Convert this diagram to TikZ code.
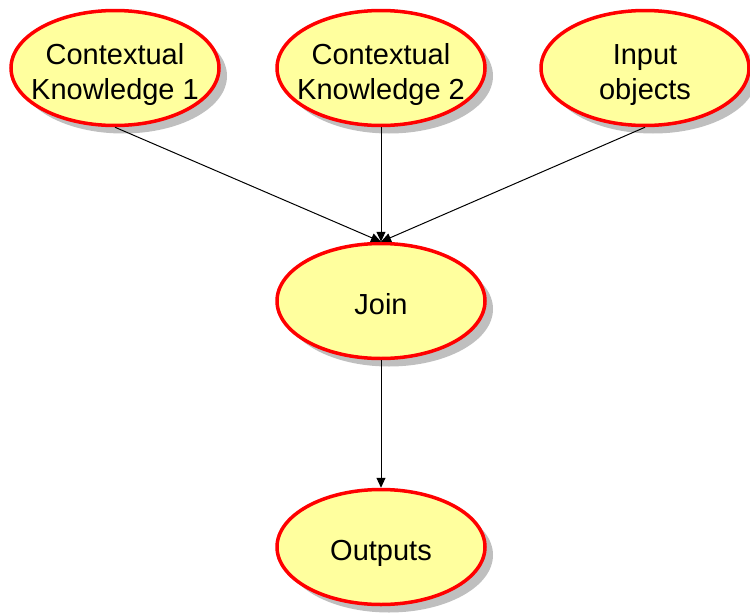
\documentclass[tikz,border=0pt]{standalone}
\usepackage{fontspec}
\setmainfont{Liberation Sans}
\usetikzlibrary{shapes.geometric,arrows.meta,shadows}
\definecolor{nodefill}{HTML}{FFFF9E}
\definecolor{noderim}{HTML}{FF0000}
\newcommand{\blobtext}[1]{\makebox[0pt]{\raisebox{-13pt}[0pt][0pt]{\begin{tabular}{@{}c@{}}#1\end{tabular}}}}
\begin{document}
\begin{tikzpicture}[x=1pt,y=-1pt,
  blob/.style={ellipse, draw=noderim, line width=3.5pt, fill=nodefill,
    minimum width=208pt, minimum height=115pt, inner sep=0pt,
    font=\fontsize{29}{35}\selectfont,
    drop shadow={shadow xshift=8pt, shadow yshift=-8pt, fill=black!25, opacity=1}},
  link/.style={draw=black, line width=1pt, -{Triangle[length=10pt,width=9pt]}}]
\useasboundingbox (0,0) rectangle (750,616);
\node[blob] (k1) at (115,68) {\blobtext{Contextual\\Knowledge 1}};
\node[blob] (k2) at (381,68) {\blobtext{Contextual\\Knowledge 2}};
\node[blob] (in) at (645,68) {\blobtext{Input\\objects}};
\node[blob] (join) at (381,301) {\blobtext{Join}};
\node[blob] (out) at (381,547) {\blobtext{Outputs}};
\draw[link] (k1.south) -- (join.north);
\draw[link] (k2.south) -- (join.north);
\draw[link] (in.south) -- (join.north);
\draw[link] (join.south) -- (out.north);
\end{tikzpicture}
\end{document}
